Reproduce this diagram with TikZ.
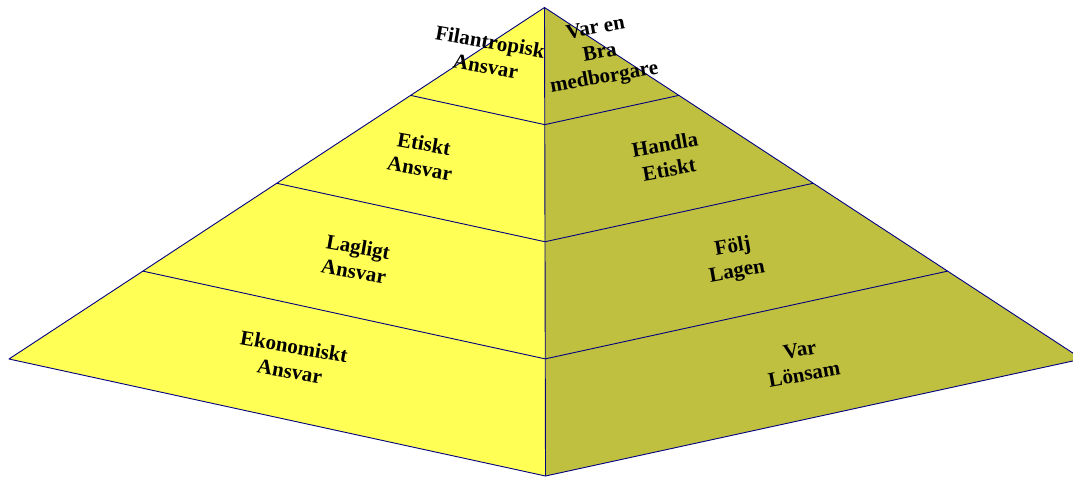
\documentclass[tikz,border=0pt]{standalone}
\usepackage{fontspec}
\setmainfont{Liberation Serif}
\usetikzlibrary{calc}
\definecolor{leftface}{RGB}{255,255,85}
\definecolor{rightface}{RGB}{192,192,64}
\definecolor{edgeblue}{RGB}{0,0,128}
\tikzset{
  edgeline/.style={draw=edgeblue, line width=0.9pt, line join=round},
  lbl/.style={font=\fontsize{21}{25}\selectfont\bfseries, align=center, inner sep=0pt, text=black},
  lefttxt/.style={lbl, rotate=-10},
  righttxt/.style={lbl, rotate=10}
}
\begin{document}
\begin{tikzpicture}[x=1pt,y=-1pt]
\useasboundingbox (0,0) rectangle (1073,477);
\clip (0,0) rectangle (1073,477);
\coordinate (A) at (544.5,7.5);
\coordinate (L) at (9,359);
\coordinate (R) at (1082,359);
\coordinate (B) at (545.5,476);
% faces
\fill[leftface] (A) -- (L) -- (B) -- cycle;
\fill[rightface] (A) -- (R) -- (B) -- cycle;
% divisions
\foreach \f/\n in {0.25/1,0.5/2,0.75/3}{
  \coordinate (L\n) at ($(A)!\f!(L)$);
  \coordinate (R\n) at ($(A)!\f!(R)$);
  \coordinate (M\n) at ($(A)!\f!(B)$);
}
\draw[edgeline] (L1) -- (M1) -- (R1);
\draw[edgeline] (L2) -- (M2) -- (R2);
\draw[edgeline] (L3) -- (M3) -- (R3);
\draw[edgeline] (A) -- (L) -- (B) -- (R) -- cycle;
\draw[edgeline] (A) -- (B);
% labels
\node[lefttxt] (filan) at (488,54) {Filantropisk\\Ansvar};
\node[righttxt] (medb) at (600,54) {Var en\\Bra\\medborgare};
\node[lefttxt] (etisk) at (422,156) {Etiskt\\Ansvar};
\node[righttxt] (handla) at (667,157) {Handla\\Etiskt};
\node[lefttxt] (lagl) at (356,259) {Lagligt\\Ansvar};
\node[righttxt] (folj) at (735,260) {Följ\\Lagen};
\node[lefttxt] (ekon) at (292,359) {Ekonomiskt\\Ansvar};
\node[righttxt] (lons) at (802,362) {Var\\Lönsam};
\end{tikzpicture}
\end{document}
